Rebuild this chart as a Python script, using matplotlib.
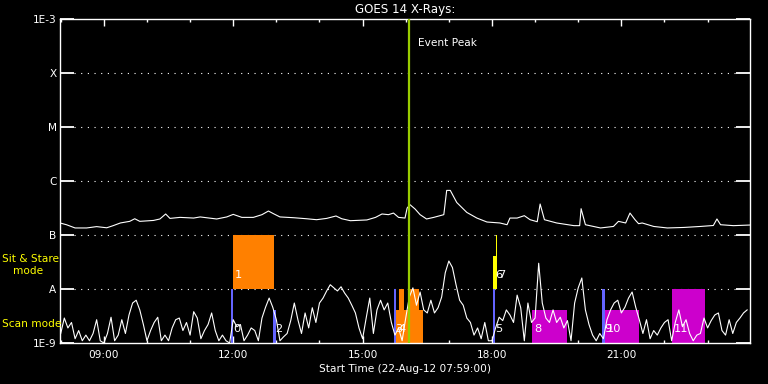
"""
GOES 14 X-ray light curve with observation timeline boxes (22-Aug-2012).
"""

import matplotlib
matplotlib.use("Agg")
import matplotlib.pyplot as plt
import matplotlib.dates as mdates
import matplotlib.ticker as mticker
import pandas as pd

DAY = "2012-08-22"
T_START = "07:59"
T_END = "23:59"
PEAK_TIME = "16:05"

# 1-8 A channel (upper curve)
LONG_TIMES = ["07:59", "08:08", "08:20", "08:36", "08:50", "09:04", "09:13", "09:23", "09:36", "09:43",
              "09:50", "10:09", "10:18", "10:26", "10:32", "10:46", "11:05", "11:14", "11:37", "11:51",
              "12:00", "12:12", "12:28", "12:40", "12:49", "12:56", "13:05", "13:24", "13:42", "13:56",
              "14:10", "14:23", "14:31", "14:43", "15:06", "15:18", "15:27", "15:36", "15:43", "15:50",
              "15:59", "16:02", "16:06", "16:13", "16:20", "16:29", "16:39", "16:53", "16:57", "17:02",
              "17:11", "17:25", "17:39", "17:53", "18:11", "18:21", "18:25", "18:35", "18:45", "18:53",
              "19:03", "19:07", "19:13", "19:30", "19:54", "20:02", "20:04", "20:10", "20:31", "20:49",
              "20:56", "21:06", "21:12", "21:19", "21:24", "21:29", "21:45", "22:04", "22:27", "22:50",
              "23:08", "23:13", "23:18", "23:36", "23:59"]
LONG_FLUX = [1.67e-7, 1.55e-7, 1.35e-7, 1.35e-7, 1.43e-7, 1.36e-7, 1.49e-7, 1.67e-7, 1.79e-7, 2.0e-7,
             1.79e-7, 1.86e-7, 1.98e-7, 2.45e-7, 2.03e-7, 2.12e-7, 2.06e-7, 2.16e-7, 1.98e-7, 2.16e-7,
             2.41e-7, 2.12e-7, 2.12e-7, 2.38e-7, 2.78e-7, 2.48e-7, 2.16e-7, 2.09e-7, 2.0e-7, 1.92e-7,
             2.03e-7, 2.25e-7, 2.0e-7, 1.84e-7, 1.9e-7, 2.12e-7, 2.45e-7, 2.38e-7, 2.55e-7, 2.12e-7,
             2.06e-7, 3.16e-7, 3.64e-7, 3.03e-7, 2.38e-7, 1.98e-7, 2.12e-7, 2.38e-7, 6.7e-7, 6.7e-7,
             4.0e-7, 2.62e-7, 2.06e-7, 1.74e-7, 1.67e-7, 1.55e-7, 2.06e-7, 2.06e-7, 2.28e-7, 1.92e-7,
             1.76e-7, 3.75e-7, 1.92e-7, 1.67e-7, 1.49e-7, 1.49e-7, 3.07e-7, 1.55e-7, 1.35e-7, 1.44e-7,
             1.79e-7, 1.67e-7, 2.55e-7, 1.92e-7, 1.62e-7, 1.67e-7, 1.44e-7, 1.35e-7, 1.38e-7, 1.44e-7,
             1.5e-7, 1.98e-7, 1.55e-7, 1.49e-7, 1.53e-7]

# 0.5-4 A channel (lower curve), one value every 5 min from 08:00
SHORT_FLUX = [
    1.5e-9, 2.9e-9, 1.9e-9, 2.4e-9, 1.2e-9, 1.7e-9, 1.1e-9, 1.4e-9, 1.1e-9, 1.5e-9, 2.7e-9, 1.1e-9,
    1.0e-9, 1.5e-9, 3.0e-9, 1.1e-9, 1.4e-9, 2.7e-9, 1.5e-9, 3.3e-9, 5.5e-9, 6.2e-9, 4.1e-9, 2.2e-9,
    1.1e-9, 1.7e-9, 2.4e-9, 3.0e-9, 1.1e-9, 1.4e-9, 1.1e-9, 1.9e-9, 2.7e-9, 2.9e-9, 1.7e-9, 2.4e-9,
    1.4e-9, 3.8e-9, 2.9e-9, 1.2e-9, 1.7e-9, 2.2e-9, 3.6e-9, 1.7e-9, 1.1e-9, 1.4e-9, 1.1e-9, 1.0e-9,
    2.7e-9, 2.0e-9, 2.2e-9, 1.1e-9, 1.4e-9, 1.9e-9, 1.7e-9, 1.1e-9, 2.9e-9, 4.6e-9, 6.8e-9, 4.6e-9,
    2.7e-9, 1.1e-9, 1.3e-9, 1.5e-9, 2.6e-9, 5.5e-9, 2.7e-9, 1.5e-9, 3.6e-9, 1.9e-9, 4.5e-9, 2.4e-9,
    5.5e-9, 6.8e-9, 9.2e-9, 1.2e-8, 1.05e-8, 9.2e-9, 1.1e-8, 8.4e-9, 6.8e-9, 5.0e-9, 3.6e-9, 1.9e-9,
    1.2e-9, 2.9e-9, 6.8e-9, 1.5e-9, 4.1e-9, 6.2e-9, 4.1e-9, 5.5e-9, 2.4e-9, 1.4e-9, 1.9e-9, 1.1e-9,
    2.9e-9, 7.1e-9, 1.05e-8, 5.0e-9, 8.8e-9, 4.1e-9, 3.6e-9, 6.2e-9, 3.6e-9, 4.5e-9, 7.1e-9, 2.0e-8,
    3.3e-8, 2.5e-8, 1.2e-8, 6.2e-9, 5.0e-9, 2.9e-9, 2.4e-9, 1.4e-9, 1.9e-9, 1.2e-9, 2.4e-9, 1.1e-9,
    1.1e-9, 1.9e-9, 3.0e-9, 2.6e-9, 4.1e-9, 3.3e-9, 2.4e-9, 7.7e-9, 4.5e-9, 1.1e-9, 5.5e-9, 2.4e-9,
    2.9e-9, 3.0e-8, 5.5e-9, 2.9e-9, 2.4e-9, 4.1e-9, 2.4e-9, 3.0e-9, 1.9e-9, 2.6e-9, 1.1e-9, 5.5e-9,
    1.05e-8, 1.6e-8, 4.1e-9, 2.2e-9, 1.4e-9, 1.1e-9, 1.5e-9, 1.2e-9, 2.7e-9, 4.1e-9, 5.5e-9, 6.2e-9,
    3.6e-9, 4.6e-9, 6.8e-9, 8.8e-9, 4.6e-9, 2.7e-9, 1.5e-9, 2.7e-9, 1.2e-9, 1.7e-9, 1.4e-9, 1.9e-9,
    2.4e-9, 2.7e-9, 1.1e-9, 2.4e-9, 4.1e-9, 2.0e-9, 2.7e-9, 1.5e-9, 1.1e-9, 1.4e-9, 1.5e-9, 2.9e-9,
    1.9e-9, 2.6e-9, 3.3e-9, 3.6e-9, 1.7e-9, 1.4e-9, 2.7e-9, 1.5e-9, 2.4e-9, 2.9e-9, 3.6e-9, 4.1e-9,
]

# observation timeline boxes
OBS_START = ["11:57", "11:59", "12:56", "15:43", "15:47", "15:51", "15:57", "16:03", "16:12", "16:18",
             "18:01", "18:02", "18:05", "18:56", "20:33", "20:37", "22:10"]
OBS_END = ["12:00", "12:57", "12:59", "15:47", "15:51", "15:57", "16:03", "16:12", "16:18", "16:24",
           "18:04", "18:07", "18:07", "19:45", "20:37", "21:24", "22:57"]
OBS_LOW = [1e-9, 1e-8, 1e-9, 1e-9, 1e-9, 1e-9, 1e-9, 1e-9, 1e-9, 1e-9,
           1e-9, 1e-8, 1e-8, 1e-9, 1e-9, 1e-9, 1e-9]
OBS_HIGH = [1e-8, 1e-7, 4.1e-9, 1e-8, 4.1e-9, 1e-8, 4.1e-9, 1e-8, 1e-8, 4.1e-9,
            1e-8, 4.1e-8, 1e-7, 4.1e-9, 1e-8, 4.1e-9, 1e-8]
OBS_TYPE = ["cal", "stare", "cal", "cal", "stare", "stare", "stare", "stare", "stare", "stare",
            "cal", "track", "track", "raster", "cal", "raster", "raster"]
OBS_LABEL = ["0", "1", "2", "3", "4", "", "", "", "", "",
             "5", "6", "7", "8", "9", "10", "11"]

TYPE_COLORS = {"cal": "#6464ff", "stare": "#ff8000", "track": "#ffff00", "raster": "#cc00cc"}

Y_TICKS = [1e-9, 1e-8, 1e-7, 1e-6, 1e-5, 1e-4, 1e-3]
Y_LABELS = ["1E-9", "A", "B", "C", "M", "X", "1E-3"]


def ts(hhmm):
    return pd.Timestamp(f"{DAY} {hhmm}")


plt.rcParams["font.family"] = "DejaVu Sans"
FS = 7.6

fig = plt.figure(figsize=(7.68, 3.84), dpi=100, facecolor="black")
ax = fig.add_axes([60 / 768, 41 / 384, 690 / 768, 324 / 384], facecolor="black")
ax.set_yscale("log")
ax.set_ylim(1e-9, 1e-3)
ax.set_xlim(ts(T_START), ts(T_END))

# timeline boxes
for s, e, lo, hi, kind, lab in zip(OBS_START, OBS_END, OBS_LOW, OBS_HIGH, OBS_TYPE, OBS_LABEL):
    x0 = mdates.date2num(ts(s))
    x1 = mdates.date2num(ts(e))
    ax.bar(x0, hi - lo, width=x1 - x0, bottom=lo, align="edge",
           color=TYPE_COLORS[kind], linewidth=0, zorder=2)
    if lab:
        ax.annotate(lab, xy=(x0, lo * 1.8), xytext=(1.5, 0), textcoords="offset points",
                    ha="left", va="center", color="white", fontsize=FS + 0.6, zorder=6)

# light curves
short_times = pd.date_range(f"{DAY} 08:00", periods=len(SHORT_FLUX), freq="5min")
ax.plot(short_times, SHORT_FLUX, color="white", lw=0.8, zorder=3)
ax.plot([ts(t) for t in LONG_TIMES], LONG_FLUX, color="white", lw=0.8, zorder=3)

# dotted class lines
for v in Y_TICKS[1:-1]:
    ax.axhline(v, xmin=14 / 690, xmax=1 - 14 / 690, color="white", lw=0.8,
               ls=(0, (1, 5)), zorder=1)

# event peak
ax.axvline(ts(PEAK_TIME), color="#99cc00", lw=1.6, zorder=5)
ax.annotate("Event Peak", xy=(ts(PEAK_TIME), 1e-3), xytext=(6.5, -17.5),
            textcoords="offset points", ha="left", va="center", color="white", fontsize=FS)

# axes styling
for sp in ax.spines.values():
    sp.set_color("white")
    sp.set_linewidth(1.0)

ax.set_yticks(Y_TICKS)
ax.set_yticklabels(Y_LABELS)
ax.yaxis.set_minor_locator(mticker.NullLocator())
ax.tick_params(axis="y", which="major", direction="in", length=10, width=1.3,
               left=True, right=True, colors="white", labelsize=FS, pad=2.5)

ax.xaxis.set_major_locator(mdates.HourLocator(byhour=[9, 12, 15, 18, 21]))
ax.xaxis.set_minor_locator(mdates.HourLocator())
ax.xaxis.set_major_formatter(mdates.DateFormatter("%H:%M"))
ax.tick_params(axis="x", which="major", direction="in", length=5, width=1,
               top=True, bottom=True, colors="white", labelsize=FS, pad=5)
ax.tick_params(axis="x", which="minor", direction="in", length=2.5, width=1,
               top=True, bottom=True, colors="white")

ax.set_xlabel("Start Time (22-Aug-12 07:59:00)", color="white", fontsize=FS, labelpad=3)
ax.set_title("GOES 14 X-Rays:", color="white", fontsize=8.6, pad=4)

# mode labels on the left
fig.text(2 / 768, 1 - 259 / 384, "Sit & Stare", color="yellow", fontsize=FS, va="center", ha="left")
fig.text(13 / 768, 1 - 271 / 384, "mode", color="yellow", fontsize=FS, va="center", ha="left")
fig.text(2 / 768, 1 - 324 / 384, "Scan mode", color="yellow", fontsize=FS, va="center", ha="left")

fig.savefig("out.png", dpi=100, facecolor="black")
plt.close(fig)
